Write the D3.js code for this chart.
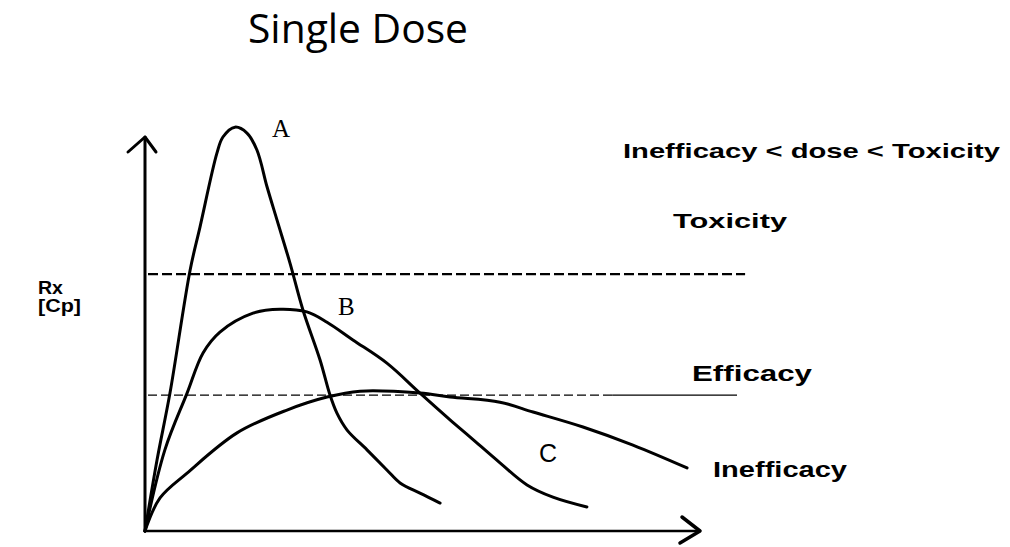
<!DOCTYPE html>
<html>
<head>
<meta charset="utf-8">
<script src="https://cdn.jsdelivr.net/npm/d3@7"></script>
<style>
  html, body { margin: 0; padding: 0; background: #fff; }
  svg { display: block; }
</style>
</head>
<body>
<svg id="chart" width="1010" height="547"></svg>
<script>
// ---- data (time in arbitrary units, concentration in % of axis) ----
const curveA = [
  [0,0],[0.52,18.0],[1.08,35.0],[1.95,66.2],[2.38,77.2],[3.11,95.9],[3.37,100],
  [3.89,102.5],[4.41,101.0],[4.84,96.7],[5.28,87.3],[5.71,78.9],[6.27,68.0],
  [6.83,56.1],[7.57,43.4],[8.0,34.5],[8.30,29.9],[8.74,25.6],[9.60,20.6],
  [10.46,15.5],[11.03,12.2],[11.89,9.6],[12.76,7.1]
];
const curveB = [
  [0,0],[0.86,20.6],[1.82,35.0],[2.51,45.2],[3.24,50.5],[4.67,55.3],[5.84,56.3],
  [7.0,55.6],[7.87,53.0],[8.99,48.5],[10.46,42.6],[11.89,35.0],[13.19,28.2],
  [14.05,23.9],[15.35,17.3],[16.52,11.7],[17.64,8.6],[19.11,6.1]
];
const curveC = [
  [0,0],[0.65,8.4],[1.82,14.7],[3.98,24.9],[6.14,30.7],[7.87,34.0],[9.30,35.5],
  [11.89,35.0],[13.19,34.0],[15.35,32.7],[16.78,30.2],[18.94,26.4],[21.10,21.8],[23.44,16.0]
];
const curveNames = ["A", "B", "C"];
const thresholdNames = ["Toxicity", "Efficacy"];
const thresholdValues = [65.2, 34.5];
const thresholdEnds = [25.95, 25.6];

// ---- scales ----
const svg = d3.select("#chart");
const x = d3.scaleLinear().domain([0, 24]).range([145, 700]);
const y = d3.scaleLinear().domain([0, 100]).range([531, 137]);

// ---- title ----
svg.append("text")
  .attr("x", 248).attr("y", 43)
  .attr("font-family", "'Open Sans', 'Liberation Sans', sans-serif")
  .attr("font-size", 40)
  .attr("textLength", 220).attr("lengthAdjust", "spacingAndGlyphs")
  .attr("fill", "#000")
  .text("Single Dose");

// ---- axes ----
const axisG = svg.append("g").attr("stroke", "#000").attr("fill", "none")
  .attr("stroke-linecap", "round").attr("stroke-linejoin", "round");
axisG.append("line")
  .attr("x1", x(0)).attr("y1", y(0)).attr("x2", x(0)).attr("y2", y(100))
  .attr("stroke-width", 3);
axisG.append("path")
  .attr("d", `M${x(0) - 17},${y(100) + 15} L${x(0)},${y(100)} L${x(0) + 11},${y(100) + 15}`)
  .attr("stroke-width", 3);
axisG.append("line")
  .attr("x1", x(0)).attr("y1", y(0)).attr("x2", x(24)).attr("y2", y(0))
  .attr("stroke-width", 2.5);
axisG.append("path")
  .attr("d", `M${x(24) - 18},${y(0) - 14} L${x(24)},${y(0)} L${x(24) - 20},${y(0) + 12}`)
  .attr("stroke-width", 3.5);

// ---- threshold lines ----
svg.append("line")
  .attr("x1", x(0.13)).attr("x2", x(thresholdEnds[0]))
  .attr("y1", y(thresholdValues[0])).attr("y2", y(thresholdValues[0]))
  .attr("stroke", "#000").attr("stroke-width", 2.2)
  .attr("stroke-dasharray", "10,4");
svg.append("line")
  .attr("x1", x(0.13)).attr("x2", x(20.2))
  .attr("y1", y(thresholdValues[1])).attr("y2", y(thresholdValues[1]))
  .attr("stroke", "#000").attr("stroke-width", 1.2)
  .attr("stroke-dasharray", "9,4");
svg.append("line")
  .attr("x1", x(20.2)).attr("x2", x(thresholdEnds[1]))
  .attr("y1", y(thresholdValues[1])).attr("y2", y(thresholdValues[1]))
  .attr("stroke", "#000").attr("stroke-width", 1.2);

// ---- curves ----
const line = d3.line().x(d => x(d[0])).y(d => y(d[1])).curve(d3.curveCatmullRom.alpha(0.5));
[curveA, curveB, curveC].forEach(c => {
  svg.append("path").datum(c)
    .attr("d", line)
    .attr("fill", "none").attr("stroke", "#000")
    .attr("stroke-width", 3).attr("stroke-linejoin", "round").attr("stroke-linecap", "round");
});

// ---- curve labels ----
svg.append("text").attr("x", 272).attr("y", 137)
  .attr("font-family", "'Liberation Serif', 'DejaVu Serif', serif").attr("font-size", 25)
  .text(curveNames[0]);
svg.append("text").attr("x", 338).attr("y", 315)
  .attr("font-family", "'Liberation Serif', 'DejaVu Serif', serif").attr("font-size", 25)
  .text(curveNames[1]);
svg.append("text").attr("x", 539).attr("y", 462)
  .attr("font-family", "'Liberation Sans', Arial, sans-serif").attr("font-size", 25)
  .text(curveNames[2]);

// ---- annotations ----
const boldFont = "'Liberation Sans', Arial, sans-serif";
function note(txt, xx, yy, size, len) {
  const t = svg.append("text").attr("x", xx).attr("y", yy)
    .attr("font-family", boldFont).attr("font-weight", "bold")
    .attr("font-size", size).attr("fill", "#000").text(txt);
  if (len) t.attr("textLength", len).attr("lengthAdjust", "spacingAndGlyphs");
}
note("Inefficacy < dose < Toxicity", 623, 158, 21, 377);
note(thresholdNames[0], 673, 228, 21, 114);
note(thresholdNames[1], 692, 381, 22, 120);
note("Inefficacy", 713, 477, 22, 134);
note("Rx", 38, 294, 18, 25);
note("[Cp]", 38, 312, 18, 43);
</script>
</body>
</html>
